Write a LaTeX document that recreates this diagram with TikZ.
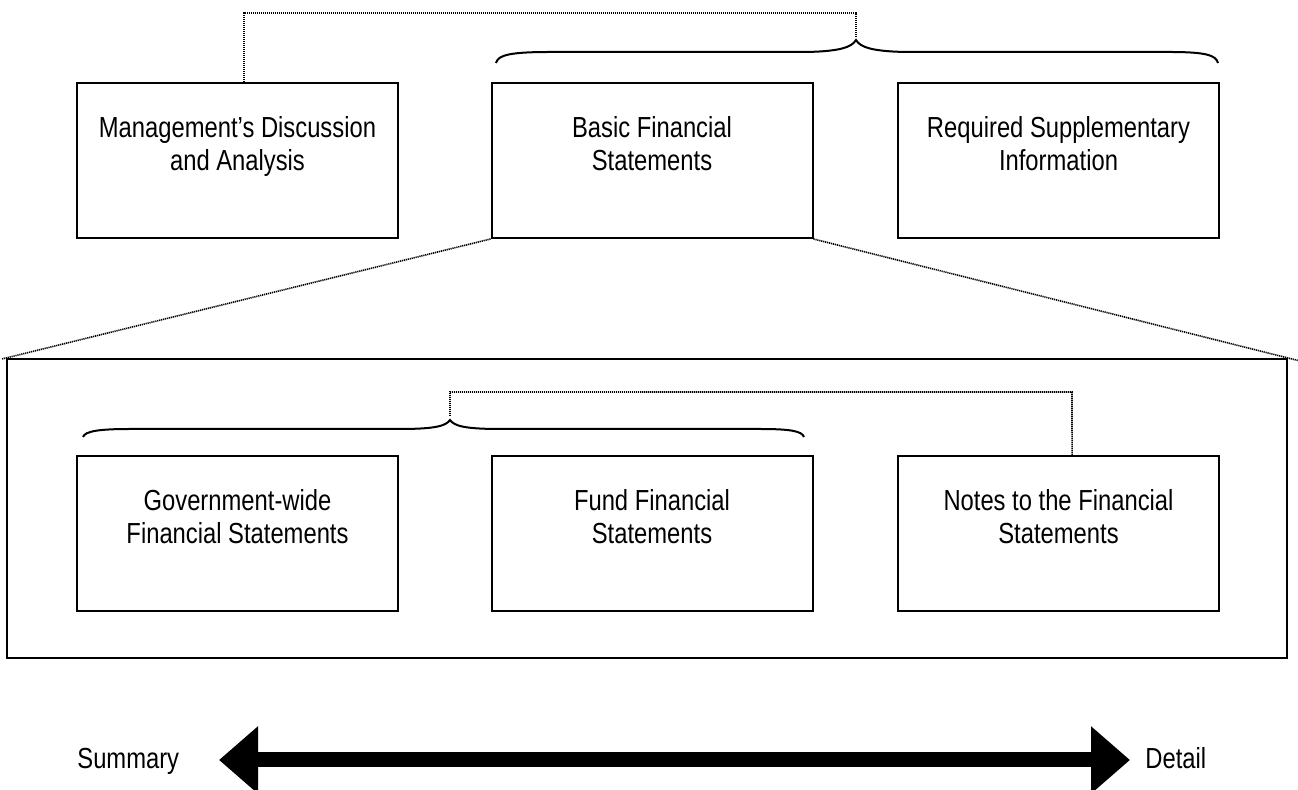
\documentclass[tikz,border=0pt]{standalone}
\usepackage{fontspec}
\setmainfont{Liberation Sans}[FakeStretch=0.82]
\usetikzlibrary{arrows.meta,calc}
\begin{document}
\begin{tikzpicture}[x=0.5pt,y=-0.5pt,
  box/.style={draw, line width=1pt, minimum width=160.5pt, minimum height=77.5pt, inner sep=0pt},
  txt/.style={anchor=north, align=center, inner sep=0pt, font=\fontsize{14.5pt}{16.5pt}\selectfont},
  lbl/.style={anchor=base west, inner sep=0pt, font=\fontsize{14.5pt}{16.5pt}\selectfont},
  dotline/.style={line width=0.8pt, dash pattern=on 0.6pt off 0.4pt},
  bracestyle/.style={line width=1pt},
  bigarrow/.style={line width=7.5pt, arrows={Triangle[length=19.5pt,width=32.5pt]-Triangle[length=19.5pt,width=32.5pt]}}]
\useasboundingbox (0,0) rectangle (1298,790);

% top row
\node[box] (b1) at (237.5,160.5) {};
\node[box] (b2) at (652,160.5) {};
\node[box] (b3) at (1058.5,160.5) {};
\node[txt] (t1) at ([yshift=-17pt]b1.north) {Management’s Discussion\\and Analysis};
\node[txt] (t2) at ([yshift=-17pt]b2.north) {Basic Financial\\Statements};
\node[txt] (t3) at ([yshift=-17pt]b3.north) {Required Supplementary\\Information};

% enclosing box
\node[draw, line width=1pt, minimum width=640pt, minimum height=149.5pt, inner sep=0pt] (big) at (647,508.5) {};

% bottom row
\node[box] (b4) at (237.5,533.5) {};
\node[box] (b5) at (652,533.5) {};
\node[box] (b6) at (1058.5,533.5) {};
\node[txt] (t4) at ([yshift=-17pt]b4.north) {Government-wide\\Financial Statements};
\node[txt] (t5) at ([yshift=-17pt]b5.north) {Fund Financial\\Statements};
\node[txt] (t6) at ([yshift=-17pt]b6.north) {Notes to the Financial\\Statements};

% top brace
\coordinate (tbtip) at (856,40);
\draw[bracestyle] (496,63) .. controls (498,55) and (510,52) .. (550,52) -- (800,52)
  .. controls (840,52) and (852,47) .. (tbtip)
  .. controls (860,47) and (872,52) .. (912,52) -- (1170,52)
  .. controls (1205,52) and (1216,55) .. (1218,63);

% top dotted bracket
\coordinate (b1top) at ($(b1.north west)!0.52!(b1.north east)$);
\coordinate (tbar) at (856,13);
\coordinate (tbend) at (856,37);
\draw[dotline] (b1top) |- (tbar) -- (tbend);

% inner brace
\coordinate (ibtip) at (450,420);
\draw[bracestyle] (83,437) .. controls (85,431) and (100,429) .. (130,429) -- (400,429)
  .. controls (435,429) and (446,426) .. (ibtip)
  .. controls (454,426) and (465,429) .. (500,429) -- (760,429)
  .. controls (790,429) and (802,431) .. (804,437);

% inner dotted bracket
\coordinate (ibend) at (450,416);
\coordinate (ibar) at (1072,392);
\coordinate (b6top) at ($(b6.north west)!0.542!(b6.north east)$);
\draw[dotline] (ibend) |- (ibar) -- (b6top);

% expansion lines
\draw[dotline] (b2.south west) -- ($(b2.south west)!1.008!(big.north west)$);
\draw[dotline] (b2.south east) -- ($(b2.south east)!1.023!(big.north east)$);

% summary / detail arrow
\node[lbl] (sum) at (77,769) {Summary};
\node[lbl] (det) at (1145,769) {Detail};
\coordinate (al) at (219,760);
\coordinate (ar) at (1130,760);
\draw[bigarrow] (al) -- (ar);
\end{tikzpicture}
\end{document}
